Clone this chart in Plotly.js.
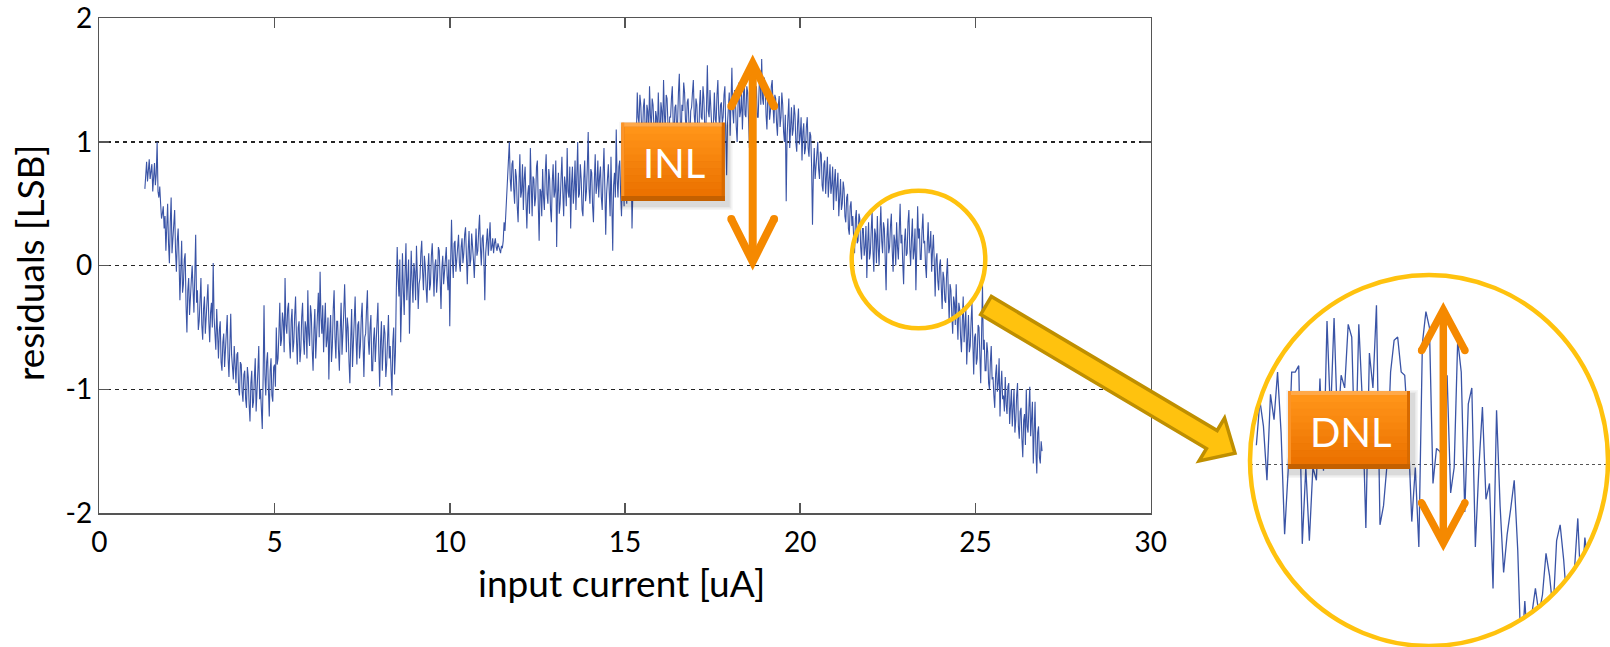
<!DOCTYPE html>
<html>
<head>
<meta charset="utf-8">
<script src="https://cdn.plot.ly/plotly-3.0.1.min.js"></script>
<style>
  html, body { margin: 0; padding: 0; background: #ffffff; }
  #chart { width: 1610px; height: 647px; }
</style>
</head>
<body>
<div id="chart"></div>
<script>
// ---- measured residuals of the current-input converter ----
// input current sweep (uA): first sample and sample spacing
const currentStartUA = 1.30;
const currentStepUA = 0.025;

// residual after straight-line fit, in LSB (one value per sweep step, 20 per 0.5 uA row)
const residualLSB = [
  0.62, 0.75, 0.84, 0.68, 0.80, 0.86, 0.70, 0.79, 0.82, 0.60, 0.78, 0.83, 0.65, 0.74, 1.00, 0.60, 0.55, 0.64, 0.50, 0.38,
  0.42, 0.48, 0.30, 0.40, 0.12, 0.28, 0.50, 0.18, 0.02, 0.35, 0.55, 0.10, 0.25, 0.38, 0.45, 0.12, -0.05, 0.20, 0.30, 0.05,
  -0.28, -0.05, 0.20, -0.22, -0.15, 0.05, 0.10, -0.32, -0.54, -0.20, -0.10, -0.40, -0.30, -0.12, 0.00, -0.25, -0.38, -0.08, 0.25, -0.30,
  -0.20, -0.52, -0.45, -0.28, -0.10, -0.48, -0.60, -0.35, -0.25, -0.55, -0.40, -0.22, -0.15, -0.45, -0.62, -0.38, -0.30, -0.50, 0.02, -0.42,
  -0.55, -0.68, -0.35, -0.60, -0.75, -0.52, -0.45, -0.78, -0.85, -0.62, -0.55, -0.82, -0.70, -0.58, -0.40, -0.75, -0.90, -0.65, -0.39, -0.72,
  -0.80, -0.92, -0.65, -0.88, -0.95, -0.72, -0.70, -1.00, -1.05, -0.78, -0.80, -1.02, -1.10, -0.88, -0.85, -1.08, -1.15, -0.82, -0.90, -1.12,
  -1.26, -0.95, -0.85, -1.15, -1.10, -0.90, -0.75, -1.18, -1.05, -0.85, -0.65, -1.08, -1.00, -1.20, -1.32, -0.90, -0.32, -0.88, -1.05, -0.78,
  -0.70, -1.00, -1.22, -0.85, -0.75, -1.05, -1.10, -0.82, -0.80, -0.98, -0.50, -0.80, -0.75, -0.55, -0.30, -0.65, -0.60, -0.38, -0.45, -0.70,
  -0.10, -0.48, -0.55, -0.35, -0.30, -0.62, -0.75, -0.45, -0.35, -0.70, -0.62, -0.40, -0.25, -0.58, -0.80, -0.50, -0.45, -0.78, -0.68, -0.42,
  -0.30, -0.60, -0.72, -0.45, -0.50, -0.75, -0.20, -0.55, -0.65, -0.32, -0.40, -0.68, -0.85, -0.52, -0.35, -0.75, -0.60, -0.40, -0.22, -0.58,
  -0.05, -0.42, -0.55, -0.32, -0.70, -0.48, -0.30, -0.66, -0.60, -0.42, -0.92, -0.55, -0.40, -0.78, -0.65, -0.35, -0.20, -0.58, -0.75, -0.45,
  -0.45, -0.68, -0.85, -0.52, -0.30, -0.72, -0.60, -0.38, -0.15, -0.55, -0.70, -0.42, -0.50, -0.78, -0.95, -0.60, -0.35, -0.82, -0.62, -0.40,
  -0.25, -0.58, -0.80, -0.48, -0.45, -0.75, -0.65, -0.42, -0.30, -0.62, -0.90, -0.58, -0.55, -0.35, -0.20, -0.60, -0.72, -0.50, -0.40, -0.85,
  -0.85, -0.60, -0.50, -0.78, -0.65, -0.42, -0.30, -0.70, -0.98, -0.62, -0.45, -0.85, -0.70, -0.48, -0.55, -0.90, -0.80, -0.52, -0.40, -0.75,
  -0.65, -0.85, -1.05, -0.62, -0.50, -0.88, -0.70, -0.20, 0.15, -0.10, -0.25, 0.05, -0.62, -0.30, 0.10, -0.20, -0.40, -0.05, 0.18, -0.28,
  -0.15, 0.05, -0.55, -0.22, 0.12, -0.12, -0.30, 0.02, -0.05, -0.28, 0.16, -0.08, -0.35, -0.15, -0.10, 0.10, 0.20, -0.05, -0.20, 0.08,
  0.00, -0.18, -0.30, -0.05, 0.10, -0.20, -0.15, 0.08, 0.18, -0.02, -0.25, 0.00, 0.05, -0.22, -0.10, 0.15, 0.12, -0.12, -0.35, -0.02,
  0.08, -0.15, -0.05, 0.12, 0.15, -0.08, -0.20, 0.05, -0.49, 0.02, 0.37, 0.05, -0.10, 0.18, 0.20, -0.05, 0.05, 0.22, 0.25, 0.02,
  -0.05, 0.15, 0.22, 0.02, 0.10, 0.25, 0.31, 0.08, -0.15, 0.12, 0.28, 0.00, 0.05, 0.26, 0.18, 0.05, -0.10, 0.20, 0.30, 0.08,
  0.12, 0.28, 0.41, 0.15, 0.00, 0.22, 0.25, 0.05, -0.28, 0.10, 0.20, 0.30, 0.08, 0.18, 0.35, 0.12, 0.15, 0.22, 0.10, 0.18,
  0.22, 0.15, 0.12, 0.18, 0.15, 0.12, 0.10, 0.16, 0.14, 0.20, 0.35, 0.28, 0.41, 0.55, 0.75, 0.90, 1.00, 0.70, 0.60, 0.82,
  0.85, 0.62, 0.50, 0.78, 0.72, 0.48, 0.35, 0.66, 0.90, 0.55, 0.60, 0.82, 0.45, 0.70, 0.80, 0.52, 0.30, 0.58, 0.65, 0.42,
  0.95, 0.65, 0.40, 0.72, 0.70, 0.48, 0.55, 0.80, 0.85, 0.50, 0.20, 0.62, 0.60, 0.40, 0.78, 0.55, 0.45, 0.75, 0.90, 0.58,
  0.50, 0.78, 0.70, 0.45, 0.35, 0.68, 0.82, 0.55, 0.60, 0.85, 0.15, 0.58, 0.75, 0.42, 0.50, 0.70, 0.88, 0.60, 0.40, 0.72,
  0.65, 0.48, 0.95, 0.60, 0.55, 0.80, 0.30, 0.66, 0.80, 0.50, 0.62, 0.85, 0.45, 0.72, 1.00, 0.55, 0.58, 0.82, 0.70, 0.45,
  0.40, 0.70, 0.85, 0.52, 0.60, 0.80, 1.08, 0.62, 0.50, 0.78, 0.75, 0.48, 0.35, 0.68, 0.90, 0.58, 0.65, 0.85, 0.55, 0.72,
  0.80, 0.55, 0.45, 0.75, 0.95, 0.62, 0.25, 0.58, 0.70, 0.82, 0.60, 0.40, 0.88, 0.50, 0.12, 0.65, 0.75, 0.55, 1.10, 0.70,
  0.55, 0.80, 0.85, 0.58, 0.40, 0.72, 0.70, 0.48, 0.95, 0.66, 0.50, 0.82, 0.78, 0.55, 0.62, 0.90, 0.30, 0.60, 0.85, 0.65,
  0.60, 1.05, 1.40, 1.20, 1.15, 1.38, 1.30, 1.10, 1.05, 1.28, 1.35, 1.12, 0.95, 1.30, 1.25, 1.05, 1.45, 1.22, 1.10, 1.35,
  1.30, 1.12, 0.90, 1.25, 1.20, 1.05, 1.40, 1.18, 1.00, 1.32, 1.25, 1.08, 1.50, 1.22, 1.10, 1.38, 1.35, 1.15, 0.85, 1.20,
  1.20, 1.35, 1.45, 1.15, 1.05, 1.28, 1.30, 1.08, 1.15, 1.40, 1.55, 1.20, 0.95, 1.30, 1.25, 1.48, 1.40, 1.18, 1.10, 1.32,
  1.35, 1.15, 1.00, 1.25, 1.28, 1.40, 1.50, 1.22, 1.12, 1.35, 1.30, 1.10, 0.90, 1.28, 1.42, 1.20, 1.18, 1.45, 1.35, 1.12,
  1.05, 1.28, 1.62, 1.25, 1.20, 1.42, 1.30, 1.12, 0.95, 1.25, 1.40, 1.18, 1.15, 1.38, 1.50, 1.22, 1.10, 1.30, 1.32, 1.15,
  1.20, 1.38, 1.45, 1.10, 0.73, 1.15, 1.28, 1.40, 1.05, 1.30, 1.60, 1.25, 1.15, 1.42, 1.35, 1.12, 1.00, 1.30, 1.48, 1.20,
  1.25, 1.40, 1.10, 1.32, 1.55, 1.22, 1.20, 1.45, 1.40, 1.18, 0.95, 1.25, 1.30, 1.50, 1.62, 1.28, 1.15, 1.35, 1.45, 1.20,
  1.20, 1.42, 1.58, 1.30, 1.67, 1.35, 1.30, 1.52, 1.45, 1.22, 1.10, 1.38, 1.40, 1.18, 1.25, 1.45, 1.50, 1.28, 1.15, 1.38,
  1.35, 1.15, 1.05, 1.30, 1.37, 1.12, 1.20, 1.40, 1.30, 1.08, 1.00, 1.22, 0.52, 1.05, 1.25, 1.35, 0.95, 1.18, 1.28, 1.05,
  1.10, 1.30, 1.22, 1.00, 0.92, 1.15, 1.27, 0.98, 1.05, 1.20, 0.85, 1.08, 1.15, 0.90, 0.95, 1.12, 1.20, 0.95, 0.88, 1.08,
  1.05, 0.80, 0.33, 0.75, 0.95, 0.70, 0.80, 0.98, 1.00, 0.78, 0.70, 0.92, 0.90, 0.65, 0.60, 0.82, 0.85, 0.58, 0.72, 0.88,
  0.55, 0.75, 0.82, 0.58, 0.65, 0.80, 0.45, 0.68, 0.78, 0.52, 0.60, 0.75, 0.40, 0.62, 0.70, 0.45, 0.50, 0.68, 0.62, 0.40,
  0.35, 0.55, 0.58, 0.30, 0.25, 0.48, 0.52, 0.32, 0.40, 0.22, 0.10, 0.38, 0.45, 0.18, 0.20, 0.42, 0.38, 0.15, 0.05, 0.30,
  0.30, 0.08, 0.15, 0.32, -0.10, 0.18, 0.35, 0.05, 0.10, 0.28, 0.45, 0.12, -0.05, 0.30, 0.25, 0.02, 0.40, 0.15, 0.00, 0.28,
  0.48, 0.20, 0.10, 0.35, 0.30, 0.05, -0.20, 0.22, 0.38, 0.10, 0.15, 0.32, 0.42, 0.12, -0.05, 0.25, 0.20, 0.00, 0.35, 0.15,
  0.05, 0.28, 0.50, 0.18, 0.25, 0.02, -0.15, 0.20, 0.30, 0.08, 0.10, 0.35, 0.45, 0.15, 0.00, 0.22, 0.38, 0.05, 0.12, 0.30,
  -0.20, 0.12, 0.48, 0.22, 0.30, 0.05, 0.05, 0.28, 0.42, 0.18, 0.20, 0.00, -0.10, 0.18, 0.35, 0.10, 0.15, 0.28, -0.05, 0.12,
  0.25, 0.02, -0.25, 0.05, 0.10, -0.12, -0.20, 0.00, 0.05, -0.18, -0.35, -0.05, -0.10, -0.28, -0.30, -0.08, 0.06, -0.22, -0.45, -0.15,
  -0.20, -0.40, -0.55, -0.25, -0.30, -0.48, -0.15, -0.42, -0.60, -0.30, -0.35, -0.58, -0.70, -0.45, -0.25, -0.62, -0.50, -0.35, -0.80, -0.52,
  -0.40, -0.70, -0.65, -0.45, -0.30, -0.62, -0.88, -0.58, -0.55, -0.80, -0.75, -0.48, -0.50, -0.72, -0.95, -0.55, -0.15, -0.68, -0.60, -0.85,
  -0.85, -0.62, -0.70, -0.95, -1.00, -0.78, -0.65, -0.92, -0.90, -1.05, -1.15, -0.88, -0.80, -1.02, -0.95, -0.75, -1.22, -0.98, -0.85, -1.08,
  -1.05, -1.18, -0.90, -1.12, -1.20, -0.98, -0.95, -1.28, -1.10, -1.00, -1.30, -1.10, -1.00, -1.35, -1.25, -1.05, -0.95, -1.30, -1.40, -1.18,
  -1.15, -1.40, -1.55, -1.25, -1.20, -1.45, -1.00, -1.30, -1.35, -1.15, -0.98, -1.38, -1.25, -1.10, -1.60, -1.30, -1.10, -1.50, -1.68, -1.35,
  -1.30, -1.55, -1.60, -1.42, -1.50
];

// finer-resolution residuals around 23-25 uA, shown in the magnified lens
const zoomStartUA = 22.64;
const zoomStepUA = 0.0222;
const zoomResidualLSB = [
  0.06, 0.20, 0.12, -0.05, 0.22, 0.14, 0.29, 0.10, -0.22, -0.02,
  0.29, 0.29, 0.31, -0.25, -0.01, -0.24, -0.01, -0.05, 0.27, -0.02,
  0.45, 0.15, 0.46, 0.11, 0.28, 0.24, 0.44, 0.40, -0.01, 0.44,
  0.20, -0.20, 0.35, 0.24, 0.50, -0.19, -0.13, 0.00, 0.29, 0.39,
  0.40, 0.29, 0.28, 0.10, -0.18, -0.01, -0.26, 0.38, 0.48, 0.43,
  -0.06, 0.05, 0.04, 0.00, 0.28, -0.09, -0.01, 0.39, 0.29, -0.15,
  0.19, 0.24, -0.26, -0.01, 0.18, -0.11, -0.06, -0.39, 0.17, -0.13,
  -0.34, -0.22, -0.14, -0.05, -0.27, -0.62, -0.43, -0.60, -0.47, -0.39,
  -0.47, -0.41, -0.28, -0.35, -0.46, -0.24, -0.19, -0.30, -0.45, -0.36,
  -0.34, -0.17, -0.42, -0.23, -0.32, -0.36, -0.30, -0.26, -0.14, -0.22
];

// axis ticks and labels
const xTickVals = [0, 5, 10, 15, 20, 25, 30];
const xTickText = ['0', '5', '10', '15', '20', '25', '30'];
const yTickVals = [-2, -1, 0, 1, 2];
const yTickText = ['-2', '-1', '0', '1', '2'];
const xTitleText = 'input current [uA]';
const yTitleText = 'residuals [LSB]';
const inlText = 'INL';
const dnlText = 'DNL';

// ---- page geometry (pixels) ----
const W = 1610, H = 647;
const px = x => x / W;
const py = y => 1 - y / H;
const plotBox = { left: 99.3, right: 1150.7, top: 18.2, bottom: 513 };
const lens = { cx: 1429, cy: 460.5, rx: 179, ry: 185.5 };
const spot = { cx: 918.5, cy: 259.5, rx: 66.8, ry: 68.7 };

const FONT = 'Lato, "Open Sans", sans-serif';
const LINE_BLUE = '#3a54a6';
const AXIS_GREY = '#555555';
const GOLD = '#FFC20E';
const GOLD_DARK = '#BF8F00';
const ORANGE = '#F58900';

const currentUA = residualLSB.map((_, i) => +(currentStartUA + i * currentStepUA).toFixed(3));
const zoomCurrentUA = zoomResidualLSB.map((_, i) => +(zoomStartUA + i * zoomStepUA).toFixed(4));

const traces = [
  {
    type: 'scatter', mode: 'lines',
    x: currentUA, y: residualLSB,
    xaxis: 'x', yaxis: 'y',
    line: { color: LINE_BLUE, width: 1.1 },
    hoverinfo: 'skip'
  },
  {
    type: 'scatter', mode: 'lines',
    x: zoomCurrentUA, y: zoomResidualLSB,
    xaxis: 'x2', yaxis: 'y2',
    line: { color: LINE_BLUE, width: 1.3 },
    hoverinfo: 'skip'
  }
];

// ---- helpers for the overlay drawing (pixel -> paper) ----
function P(x, y) { return px(x).toFixed(5) + ',' + py(y).toFixed(5); }
function rect(x0, y0, x1, y1, fill) {
  return { type: 'rect', xref: 'paper', yref: 'paper', layer: 'above',
    x0: px(x0), x1: px(x1), y0: py(y1), y1: py(y0),
    fillcolor: fill, line: { width: 0 } };
}
function ellipse(e, color, width) {
  return { type: 'circle', xref: 'paper', yref: 'paper', layer: 'above',
    x0: px(e.cx - e.rx), x1: px(e.cx + e.rx), y0: py(e.cy + e.ry), y1: py(e.cy - e.ry),
    line: { color: color, width: width }, fillcolor: 'rgba(0,0,0,0)' };
}
function pathShape(d, opts) {
  return Object.assign({ type: 'path', xref: 'paper', yref: 'paper', layer: 'above', path: d }, opts);
}
function mix(c0, c1, t) {
  const a = [1, 3, 5].map(i => parseInt(c0.substr(i, 2), 16));
  const b = [1, 3, 5].map(i => parseInt(c1.substr(i, 2), 16));
  return 'rgb(' + a.map((v, k) => Math.round(v + (b[k] - v) * t)).join(',') + ')';
}
// orange bevelled label plate with a soft drop shadow
function badge(x0, y0, x1, y1) {
  const s = [];
  [[5, 0.04], [3.5, 0.05], [2, 0.06]].forEach(([g, a]) =>
    s.push(rect(x0 + 3 - g, y0 + 4 - g, x1 + 3 + g, y1 + 4 + g, 'rgba(0,0,0,' + a + ')')));
  s.push(rect(x0, y0, x1, y1, '#D96B00'));
  const top = y0 + 4, bot = y1 - 5, n = 10;
  for (let k = 0; k < n; k++) {
    const a = top + (bot - top) * k / n, b = top + (bot - top) * (k + 1) / n + 0.5;
    s.push(rect(x0 + 3, a, x1 - 3, b, mix('#FF9418', '#EC7200', k / (n - 1))));
  }
  s.push(rect(x0, y0, x1, y0 + 4, '#FFA94A'));
  s.push(rect(x0, y0, x0 + 3, y1, '#FB9428'));
  s.push(rect(x1 - 3, y0, x1, y1, '#D86A00'));
  s.push(rect(x0, y1 - 5, x1, y1, '#C46000'));
  return s;
}
// vertical double-headed arrow with open chevron heads
function doubleArrow(x, yTop, yBot, armDx, armDy, width) {
  const s = [];
  const st = { line: { color: ORANGE, width: width }, fillcolor: 'rgba(0,0,0,0)' };
  s.push(pathShape('M' + P(x, yTop + 2) + 'L' + P(x, yBot - 2), st));
  s.push(pathShape('M' + P(x - armDx, yTop + armDy) + 'L' + P(x, yTop) + 'L' + P(x + armDx, yTop + armDy), st));
  s.push(pathShape('M' + P(x - armDx, yBot - armDy) + 'L' + P(x, yBot) + 'L' + P(x + armDx, yBot - armDy), st));
  const r = width / 2;
  [[x - armDx, yTop + armDy], [x + armDx, yTop + armDy], [x - armDx, yBot - armDy], [x + armDx, yBot - armDy]]
    .forEach(([cx, cy]) => s.push(ellipse({ cx: cx, cy: cy, rx: r * 0.5, ry: r * 0.5 }, ORANGE, r)));
  return s;
}

const shapes = [];

// white mask outside the lens so the magnified trace shows only inside the circle
(function () {
  let d = 'M' + P(1244, 268) + 'L' + P(1610, 268) + 'L' + P(1610, 647) + 'L' + P(1244, 647) + 'Z';
  const N = 144;
  for (let k = 0; k <= N; k++) {
    const t = 2 * Math.PI * k / N;
    d += (k === 0 ? 'M' : 'L') + P(lens.cx + lens.rx * Math.cos(t), lens.cy + lens.ry * Math.sin(t));
  }
  d += 'Z';
  shapes.push(pathShape(d, { fillcolor: '#ffffff', fillrule: 'evenodd', line: { width: 0 } }));
})();

// lens outline and the small circle marking the magnified region
shapes.push(ellipse(lens, GOLD, 4.5));
shapes.push(ellipse(spot, GOLD, 4.5));

// block arrow from the marked region to the lens
(function () {
  const T = [986, 305.5], tip = [1235, 453.3];
  const L = Math.hypot(tip[0] - T[0], tip[1] - T[1]);
  const u = [(tip[0] - T[0]) / L, (tip[1] - T[1]) / L];
  const n = [-u[1], u[0]];
  const hs = 10.5, hw = 25, hl = 27;
  const at = (a, b) => [T[0] + u[0] * a + n[0] * b, T[1] + u[1] * a + n[1] * b];
  const pts = [at(0, hs), at(L - hl, hs), at(L - hl, hw), tip, at(L - hl, -hw), at(L - hl, -hs), at(0, -hs)];
  const d = pts.map((p, i) => (i ? 'L' : 'M') + P(p[0], p[1])).join('') + 'Z';
  shapes.push(pathShape(d, { fillcolor: GOLD, line: { color: GOLD_DARK, width: 3.5 } }));
})();

// INL label and arrow
badge(621.3, 122.7, 724.8, 201).forEach(s => shapes.push(s));
doubleArrow(752.7, 63.5, 261.7, 21.4, 42.7, 8).forEach(s => shapes.push(s));

// DNL label and arrow
badge(1288, 391, 1410, 469).forEach(s => shapes.push(s));
doubleArrow(1443.3, 310, 543.3, 21.7, 40.5, 7.5).forEach(s => shapes.push(s));

const annotations = [
  { xref: 'paper', yref: 'paper', x: px(674), y: py(163), xanchor: 'center', yanchor: 'middle',
    text: inlText, showarrow: false, font: { family: FONT, size: 40, color: '#ffffff' } },
  { xref: 'paper', yref: 'paper', x: px(1350.5), y: py(432), xanchor: 'center', yanchor: 'middle',
    text: dnlText, showarrow: false, font: { family: FONT, size: 40, color: '#ffffff' } },
  { xref: 'paper', yref: 'paper', x: px(621), y: py(582), xanchor: 'center', yanchor: 'middle',
    text: xTitleText, showarrow: false, font: { family: FONT, size: 37, color: '#000000' } },
  { xref: 'paper', yref: 'paper', x: px(30), y: py(263), xanchor: 'center', yanchor: 'middle',
    text: yTitleText, textangle: -90, showarrow: false, font: { family: FONT, size: 37, color: '#000000' } }
];

const tickFont = { family: FONT, size: 28, color: '#000000' };

const layout = {
  width: W, height: H,
  margin: { l: 0, r: 0, t: 0, b: 0, pad: 0 },
  paper_bgcolor: '#ffffff',
  plot_bgcolor: 'rgba(0,0,0,0)',
  showlegend: false,
  hovermode: false,
  xaxis: {
    domain: [px(plotBox.left), px(plotBox.right)], anchor: 'y',
    range: [0, 30], tickmode: 'array', tickvals: xTickVals, ticktext: xTickText,
    ticks: 'inside', ticklen: 10, tickwidth: 1.5, tickcolor: AXIS_GREY,
    ticklabelstandoff: 4, ticklabeloverflow: 'allow',
    showline: true, linecolor: AXIS_GREY, linewidth: 1.5, mirror: 'ticks',
    showgrid: false, zeroline: false, tickfont: tickFont, fixedrange: true
  },
  yaxis: {
    domain: [py(plotBox.bottom), py(plotBox.top)], anchor: 'x',
    range: [-2, 2], tickmode: 'array', tickvals: yTickVals, ticktext: yTickText,
    ticks: 'inside', ticklen: 10, tickwidth: 1.5, tickcolor: AXIS_GREY,
    ticklabeloverflow: 'allow',
    showline: true, linecolor: AXIS_GREY, linewidth: 1.5, mirror: 'ticks',
    showgrid: true, gridcolor: '#262626', gridwidth: 1.4, griddash: '4px,4px',
    zeroline: false, tickfont: tickFont, fixedrange: true
  },
  xaxis2: {
    domain: [px(lens.cx - lens.rx), px(lens.cx + lens.rx)], anchor: 'y2',
    range: [22.60, 24.85], showgrid: false, zeroline: false, showline: false,
    showticklabels: false, ticks: '', fixedrange: true
  },
  yaxis2: {
    domain: [py(lens.cy + lens.ry), py(lens.cy - lens.ry)], anchor: 'x2',
    range: [-0.571, 0.595], tickmode: 'array', tickvals: [0],
    showgrid: true, gridcolor: '#555555', gridwidth: 1.2, griddash: '3px,3px',
    zeroline: false, showline: false, showticklabels: false, ticks: '', fixedrange: true
  },
  shapes: shapes,
  annotations: annotations
};

Plotly.newPlot('chart', traces, layout, { staticPlot: true, displayModeBar: false });
</script>
</body>
</html>
